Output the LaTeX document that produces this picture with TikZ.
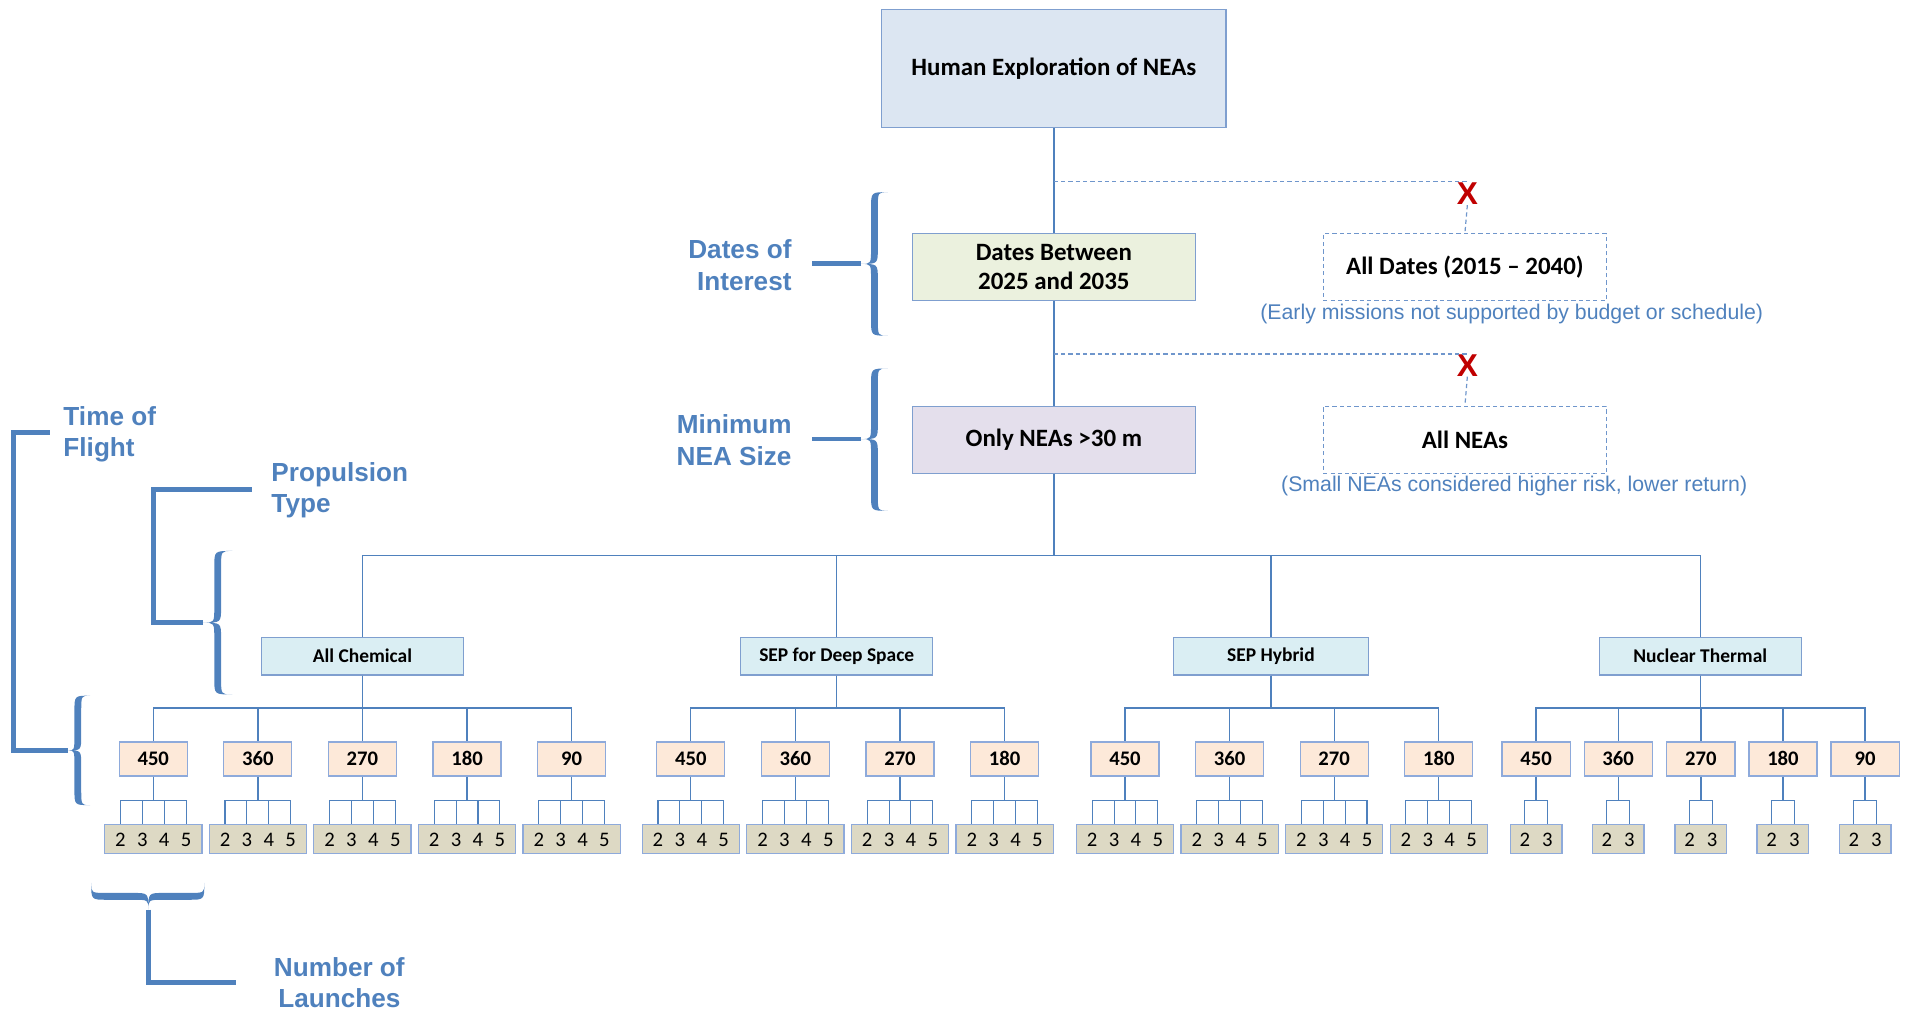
\documentclass[tikz,border=0pt]{standalone}
\usepackage{fontspec}
\setmainfont{Carlito}
\newfontfamily\arialf{Liberation Sans}
\usetikzlibrary{calc}

\definecolor{lineblue}{HTML}{4F81BD}
\definecolor{bordblue}{HTML}{7F9FCF}
\definecolor{dashblue}{HTML}{6F96CC}
\definecolor{labblue}{HTML}{4F81BD}
\definecolor{noteblue}{HTML}{4F81BD}
\definecolor{topfill}{HTML}{DCE6F2}
\definecolor{datefill}{HTML}{EBF1DE}
\definecolor{neafill}{HTML}{E4DFEC}
\definecolor{propfill}{HTML}{DAEEF3}
\definecolor{toffill}{HTML}{FDE9D9}
\definecolor{tofborder}{HTML}{8EAADB}
\definecolor{lchfill}{HTML}{DDD9C4}
\definecolor{xred}{HTML}{C00000}

% vertical curly brace: name, x-end, x-body, x-tip, y-top, y-mid, y-bottom
\newcommand\myVbrace[7]{%
  \fill[lineblue] (#2,#5) .. controls (#3-2.8,#5) .. (#3-2.8,#5+13) -- (#3-2.8,#6-13)
    .. controls (#3-2.8,#6) .. (#4,#6) .. controls (#3-2.8,#6) .. (#3-2.8,#6+13)
    -- (#3-2.8,#7-13) .. controls (#3-2.8,#7) .. (#2,#7)
    .. controls (#3+2.8,#7) .. (#3+2.8,#7-13) -- (#3+2.8,#6+13)
    .. controls (#3+2.8,#6) .. (#4,#6) .. controls (#3+2.8,#6) .. (#3+2.8,#6-13)
    -- (#3+2.8,#5+13) .. controls (#3+2.8,#5) .. (#2,#5) -- cycle;
  \coordinate (#1) at (#4,#6);}
% horizontal curly brace: name, y-end, y-body, y-tip, x-left, x-mid, x-right
\newcommand\myHbrace[7]{%
  \fill[lineblue] (#5,#2) .. controls (#5,#3-2.8) .. (#5+13,#3-2.8) -- (#6-13,#3-2.8)
    .. controls (#6,#3-2.8) .. (#6,#4) .. controls (#6,#3-2.8) .. (#6+13,#3-2.8)
    -- (#7-13,#3-2.8) .. controls (#7,#3-2.8) .. (#7,#2)
    .. controls (#7,#3+2.8) .. (#7-13,#3+2.8) -- (#6+13,#3+2.8)
    .. controls (#6,#3+2.8) .. (#6,#4) .. controls (#6,#3+2.8) .. (#6-13,#3+2.8)
    -- (#5+13,#3+2.8) .. controls (#5,#3+2.8) .. (#5,#2) -- cycle;
  \coordinate (#1) at (#6,#4);}

% time-of-flight group: name, x, label, parent, number of launches (4 or 2)
\newcommand\tofgrp[5]{%
  \node[ntof] (#1) at (#2,624) {#3};
  \draw[conn] (#4.south) -- (#4.south |- 0,582) -| (#1.north);
  \draw[conn] (#1.south) -- (#1.south |- 0,658);
  \ifnum#5=4\relax
    \node[nlch, minimum width=80pt] (#1L) at (#2,690) {};
    \draw[lconn] (#2-27,658) -- (#2+27,658);
    \foreach \dx/\n in {-27/2,-9/3,9/4,27/5}{
      \node[ndigit] (#1D\n) at (#2+\dx,690.5) {\n};
      \draw[lconn] (#1D\n |- 0,658) -- (#1D\n |- #1L.north);
    }
  \else
    \node[nlch, minimum width=42.6pt] (#1L) at (#2,690) {};
    \draw[lconn] (#2-9.3,658) -- (#2+9.3,658);
    \foreach \dx/\n in {-9.3/2,9.3/3}{
      \node[ndigit] (#1D\n) at (#2+\dx,690.5) {\n};
      \draw[lconn] (#1D\n |- 0,658) -- (#1D\n |- #1L.north);
    }
  \fi}

\begin{document}
\begin{tikzpicture}[x=1pt,y=-1pt,
  conn/.style={draw=lineblue, line width=1.1pt},
  lconn/.style={draw=lineblue, line width=0.9pt},
  thconn/.style={draw=lineblue, line width=1.4pt},
  dconn/.style={draw=dashblue, line width=1pt, dash pattern=on 3.5pt off 2.5pt},
  nbx/.style={draw=bordblue, line width=1pt, inner sep=0pt, align=center, text=black},
  ntop/.style={nbx, fill=topfill, minimum width=283pt, minimum height=97pt, font=\fontsize{20.5}{24}\selectfont\bfseries},
  nlvl/.style={nbx, minimum width=233pt, minimum height=55pt, font=\fontsize{20.5}{24}\selectfont\bfseries},
  nalt/.style={nlvl, draw=dashblue, dash pattern=on 3.5pt off 2.5pt},
  nprop/.style={nbx, fill=propfill, minimum height=31pt, font=\fontsize{16}{18}\selectfont\bfseries},
  ntof/.style={nbx, fill=toffill, draw=tofborder, minimum width=56pt, minimum height=28pt, font=\fontsize{17}{18}\selectfont\bfseries},
  nlch/.style={nbx, fill=lchfill, draw=tofborder, minimum height=24pt},
  ndigit/.style={inner sep=0pt, font=\fontsize{17}{18}\selectfont},
  nnote/.style={inner sep=0pt, text=noteblue, font=\arialf\fontsize{17.5}{20}\selectfont},
  sidelab/.style={inner sep=0pt, text=labblue, font=\arialf\bfseries\fontsize{21.5}{26}\selectfont},
  xmark/.style={inner sep=0pt, text=xred, font=\arialf\bfseries\fontsize{26}{26}\selectfont},
  brk/.style={draw=lineblue, line width=4pt, line join=miter}]

\useasboundingbox (0,0) rectangle (1568,833);

% main chain
\node[ntop] (top) at (866.5,56.5) {Human Exploration of NEAs};
\node[nlvl, fill=datefill] (dates) at (866.5,219.5) {Dates Between\\2025 and 2035};
\node[nalt] (alld) at (1204.5,219.5) {All Dates (2015 – 2040)};
\node[xmark] (x1) at (1206.5,159.5) {X};
\node[nnote] (note1) at (1243,258) {(Early missions not supported by budget or schedule)};
\node[nlvl, fill=neafill] (nea) at (866.5,361.5) {Only NEAs >30 m};
\node[nalt] (alln) at (1204.5,361.5) {All NEAs};
\node[xmark] (x2) at (1206.5,300.5) {X};
\node[nnote] (note2) at (1245,400) {(Small NEAs considered higher risk, lower return)};

\draw[conn] (top.south) -- (dates.north);
\draw[conn] (dates.south) -- (nea.north);
\draw[dconn] (top.south |- 0,149) -- (x1 |- 0,149);
\draw[dconn] (x1.south) -- (alld.north);
\draw[dconn] (dates.south |- 0,291) -- (x2 |- 0,291);
\draw[dconn] (x2.south) -- (alln.north);

% propulsion level
\node[nprop, minimum width=166pt] (chem) at (298,539.5) {All Chemical};
\node[nprop, minimum width=158pt] (sep) at (688,539.5) {SEP for Deep Space};
\node[nprop, minimum width=160pt] (hyb) at (1045,539.5) {SEP Hybrid};
\node[nprop, minimum width=166pt] (nuc) at (1398,539.5) {Nuclear Thermal};

\draw[thconn] (nea.south) -- (nea.south |- 0,457);
\foreach \p in {chem,sep,hyb,nuc}{
  \draw[conn] (nea.south |- 0,457) -| (\p.north);
}

% time of flight and launches
\tofgrp{c1}{126}{450}{chem}{4}
\tofgrp{c2}{212}{360}{chem}{4}
\tofgrp{c3}{298}{270}{chem}{4}
\tofgrp{c4}{384}{180}{chem}{4}
\tofgrp{c5}{470}{90}{chem}{4}
\tofgrp{s1}{568}{450}{sep}{4}
\tofgrp{s2}{654}{360}{sep}{4}
\tofgrp{s3}{740}{270}{sep}{4}
\tofgrp{s4}{826}{180}{sep}{4}
\tofgrp{h1}{925}{450}{hyb}{4}
\tofgrp{h2}{1011}{360}{hyb}{4}
\tofgrp{h3}{1097}{270}{hyb}{4}
\tofgrp{h4}{1183}{180}{hyb}{4}
\tofgrp{n1}{1263}{450}{nuc}{2}
\tofgrp{n2}{1330.5}{360}{nuc}{2}
\tofgrp{n3}{1398.5}{270}{nuc}{2}
\tofgrp{n4}{1466}{180}{nuc}{2}
\tofgrp{n5}{1533.5}{90}{nuc}{2}

% side labels with brackets
\node[sidelab, anchor=east, align=right] (doi) at (651,218) {Dates of\\Interest};
\myVbrace{br1}{730}{719}{708}{158}{217}{276}
\draw[brk] (br1) -- ++(-40,0);

\node[sidelab, anchor=east, align=right] (mns) at (651,362) {Minimum\\NEA Size};
\myVbrace{br2}{730}{719}{708}{303}{361}{420}
\draw[brk] (br2) -- ++(-40,0);

\node[sidelab, anchor=west, align=left] (tofl) at (52,357) {Time of\\Flight};
\myVbrace{br3}{74}{64}{56}{572}{617}{662}
\draw[brk] (br3) -- (11,617) -- (11,355.5) -- (41,355.5);

\node[sidelab, anchor=west, align=left] (ptl) at (223,403) {Propulsion\\Type};
\myVbrace{br4}{191}{179}{167}{453}{512}{571}
\draw[brk] (br4) -- (126,512) -- (126,402.5) -- (207,402.5);

\node[sidelab, align=center] (nol) at (279,808) {Number of\\Launches};
\myHbrace{br5}{726}{737}{748}{75}{122}{168}
\draw[brk] (br5) -- (122,808) -- (194,808);

\end{tikzpicture}
\end{document}
